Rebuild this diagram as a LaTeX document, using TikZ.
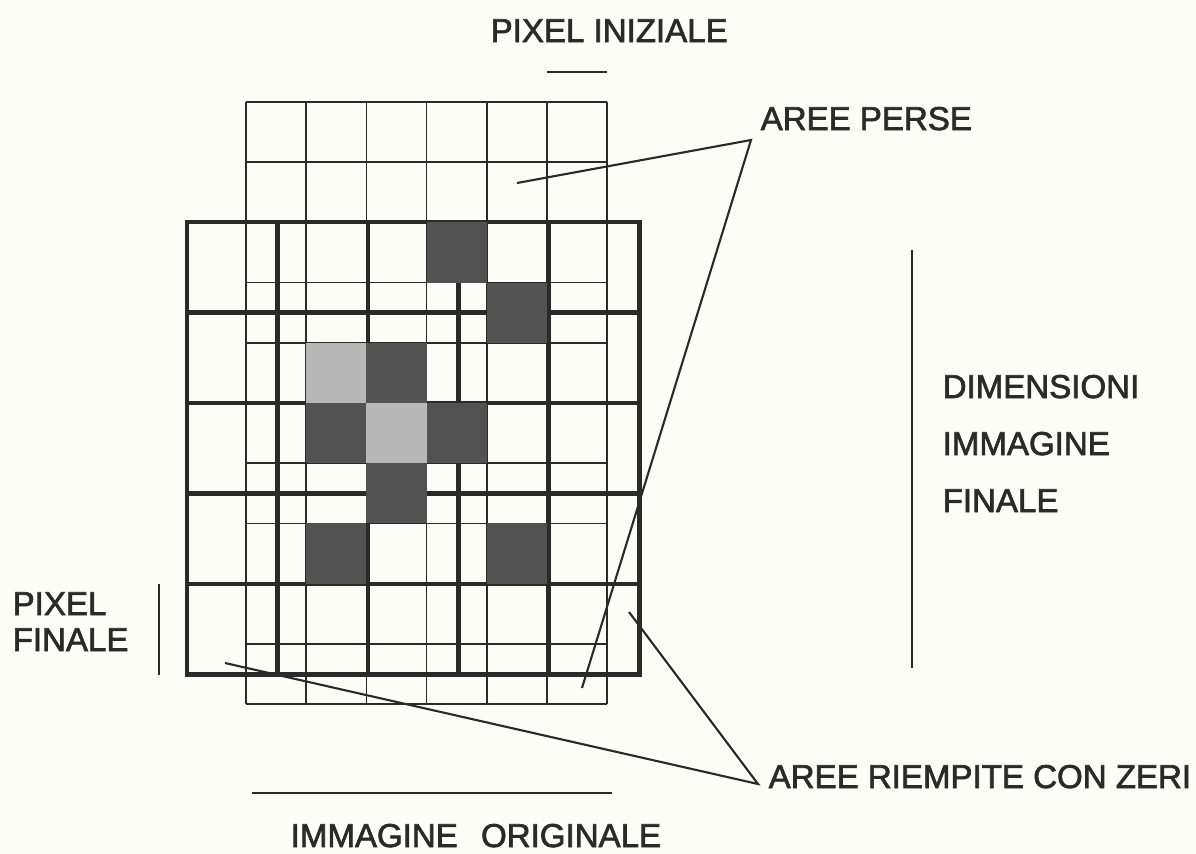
\documentclass[tikz,border=0pt]{standalone}
\usepackage{fontspec}
\setmainfont{Liberation Sans}
\newfontfamily\labelfont[FakeBold=2]{Liberation Sans}
\usetikzlibrary{positioning, calc}
\definecolor{paper}{RGB}{253,253,248}
\definecolor{ink}{RGB}{42,42,42}

\begin{document}
\begin{tikzpicture}[
        x=0.01cm, y=-0.01cm,
        fine/.style={line width=0.5pt, draw=ink},
        thickline/.style={line width=1.4pt, draw=ink},
        lead/.style={line width=0.6pt, draw=ink},
        label/.style={inner sep=0pt, anchor=base west, text=ink, font=\labelfont\fontsize{9.4}{11}\selectfont},
        darkpx/.style={fill=black!68},
        lightpx/.style={fill=black!28}
    ]
    \fill[paper] (0,0) rectangle (1196,854);
    \useasboundingbox (0,0) rectangle (1196,854);

    % immagine originale: 6 x 10 pixel
    \foreach \i in {0,...,6}
        \draw[fine] (246+60.2*\i,102) -- (246+60.2*\i,704);
    \foreach \j in {0,...,10}
        \draw[fine] (246,102+60.2*\j) -- (607.2,102+60.2*\j);

    % immagine finale: 5 x 5 pixel
    \draw[thickline] (187,222) rectangle (639.5,674.5);
    \foreach \i in {1,...,4} {
        \draw[thickline] (187+90.5*\i,222) -- (187+90.5*\i,674.5);
        \draw[thickline] (187,222+90.5*\i) -- (639.5,222+90.5*\i);
    }

    % pixel pieni
    \foreach \c/\r in {3/2,4/3,2/4,1/5,3/5,2/6,1/7,4/7}
        \fill[darkpx] (246+60.2*\c,102+60.2*\r) rectangle ++(60.2,60.2);
    \foreach \c/\r in {1/4,2/5}
        \fill[lightpx] (246+60.2*\c,102+60.2*\r) rectangle ++(60.2,60.2);

    % etichette
    \node[label] (ini) at (490,42) {PIXEL INIZIALE};
    \coordinate (iniA) at (547.2,72);
    \coordinate (iniB) at (607.2,72);
    \draw[lead] (iniA) -- (iniB);

    \node[label] (perse) at (760,130) {AREE PERSE};
    \coordinate (perseTip) at (751,140);
    \coordinate (perseA) at (517,183);
    \coordinate (perseB) at (582,688);
    \draw[lead] (perseA) -- (perseTip) -- (perseB);

    \node[label] (dim1) at (942,398) {DIMENSIONI};
    \node[label] (dim2) at (942,455) {IMMAGINE};
    \node[label] (dim3) at (942,512) {FINALE};
    \coordinate (dimA) at (912,250);
    \coordinate (dimB) at (912,668);
    \draw[lead] (dimA) -- (dimB);

    \node[label] (fin1) at (12,615) {PIXEL};
    \node[label] (fin2) at (12,651) {FINALE};
    \coordinate (finA) at (159,584);
    \coordinate (finB) at (159,675);
    \draw[lead] (finA) -- (finB);

    \node[label] (zeri) at (768,788) {AREE RIEMPITE CON ZERI};
    \coordinate (zeriTip) at (758,784);
    \coordinate (zeriA) at (629,612);
    \coordinate (zeriB) at (225,663);
    \draw[lead] (zeriA) -- (zeriTip) -- (zeriB);

    \node[label] (orig) at (290,847) {IMMAGINE\hspace{4pt} ORIGINALE};
    \coordinate (origA) at (252,793);
    \coordinate (origB) at (612,793);
    \draw[lead] (origA) -- (origB);
\end{tikzpicture}
\end{document}
